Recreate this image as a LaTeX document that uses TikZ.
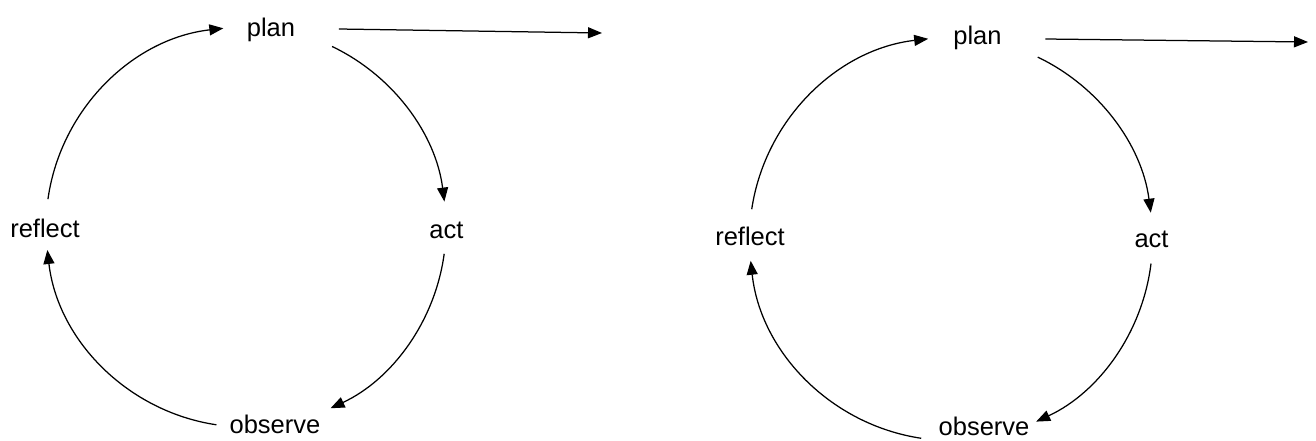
\documentclass[tikz,border=0pt]{standalone}
\usepackage{fontspec}
\setmainfont{Liberation Sans}
\usetikzlibrary{arrows.meta}
\begin{document}
\begin{tikzpicture}[x=1pt,y=-1pt,
  lbl/.style={anchor=base,inner sep=0pt,font=\fontsize{25.5}{30}\selectfont},
  arr/.style={line width=1.25pt,-{Triangle[length=14pt,width=11pt]}}]
\useasboundingbox (0,0) rectangle (1316,441);
% ---- left cycle ----
\coordinate (c1) at (246,227);
\node[lbl] (p1) at (271,36.5) {plan};
\node[lbl] (a1) at (446.5,238) {act};
\node[lbl] (o1) at (275,433) {observe};
\node[lbl] (r1) at (45,237) {reflect};
\coordinate (e1) at (602,33);
\draw[arr] ([shift={(188:200)}]c1) arc[start angle=188,end angle=263.5,radius=200];
\draw[arr] ([shift={(295.5:200)}]c1) arc[start angle=295.5,end angle=352.7,radius=200];
\draw[arr] ([shift={(7.7:200)}]c1) arc[start angle=7.7,end angle=65,radius=200];
\draw[arr] ([shift={(98.5:200)}]c1) arc[start angle=98.5,end angle=173.4,radius=200];
\draw[arr] ([shift={(43.5,-7.5)}]p1.base east) -- (e1);
% ---- right cycle ----
\coordinate (c2) at (951,239);
\node[lbl] (p2) at (977.5,45) {plan};
\node[lbl] (a2) at (1151.5,247) {act};
\node[lbl] (o2) at (984,435.5) {observe};
\node[lbl] (r2) at (750,245) {reflect};
\coordinate (e2) at (1308,42);
\draw[arr] ([shift={(188.5:201.5)}]c2) arc[start angle=188.5,end angle=263.5,radius=201.5];
\draw[arr] ([shift={(295.5:201.5)}]c2) arc[start angle=295.5,end angle=352.5,radius=201.5];
\draw[arr] ([shift={(7:201.5)}]c2) arc[start angle=7,end angle=65,radius=201.5];
\draw[arr] ([shift={(98.5:201.5)}]c2) arc[start angle=98.5,end angle=173.8,radius=201.5];
\draw[arr] ([shift={(43.5,-6)}]p2.base east) -- (e2);
\end{tikzpicture}
\end{document}
